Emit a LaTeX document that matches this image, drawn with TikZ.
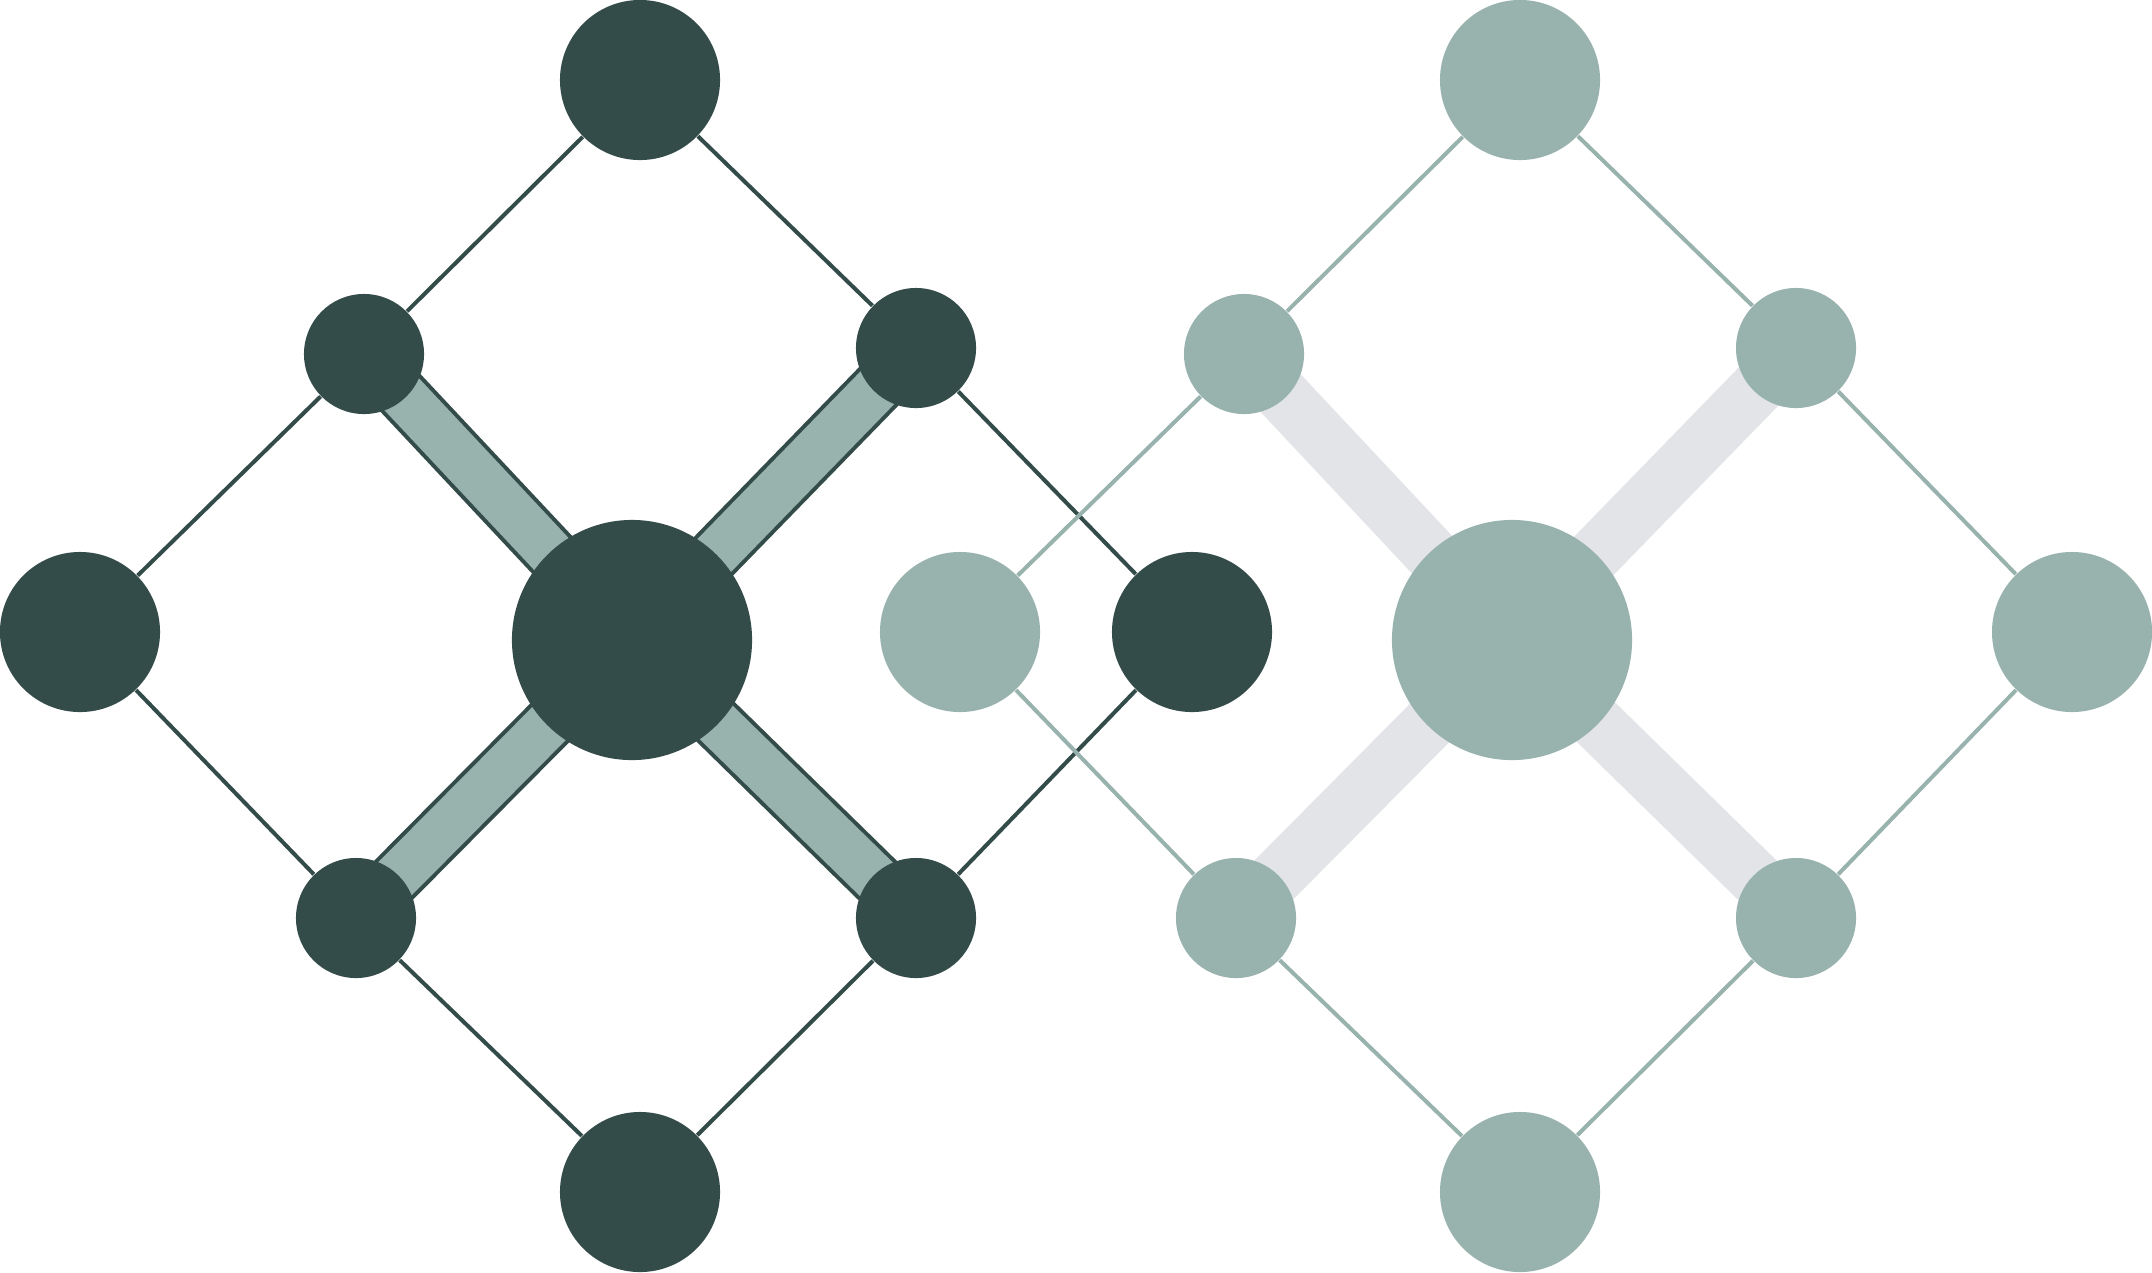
\documentclass[tikz,border=0pt]{standalone}
\usetikzlibrary{backgrounds}
\definecolor{pine}{HTML}{344C49}
\definecolor{sage}{HTML}{98B2AD}
\definecolor{mist}{HTML}{E2E4E8}
\tikzset{
  atom/.style={circle, inner sep=0pt, draw=none},
  big/.style={atom, minimum size=1.6cm},
  hub/.style={atom, minimum size=2.4cm},
  small/.style={atom, minimum size=1.2cm},
  edge/.style={line width=0.04cm}
}
\begin{document}
\begin{tikzpicture}[x=0.01cm, y=-0.01cm]
      \useasboundingbox (0,0) rectangle (2152,1272);
      % left lattice
      \draw
        (640,80) node[big, fill=pine] (t1){}
        (80,632) node[big, fill=pine] (l1){}
        (640,1192) node[big, fill=pine] (b1){}
        (1192,632) node[big, fill=pine] (r1){}
        (632,640) node[hub, fill=pine] (c1){}
        (364,354) node[small, fill=pine] (tl1){}
        (916,348) node[small, fill=pine] (tr1){}
        (356,918) node[small, fill=pine] (bl1){}
        (916,918) node[small, fill=pine] (br1){};
      \begin{scope}[edge, pine]
        \draw (t1) to (tl1);
        \draw (tl1) to (l1);
        \draw (l1) to (bl1);
        \draw (bl1) to (b1);
        \draw (b1) to (br1);
        \draw (br1) to (r1);
        \draw (r1) to (tr1);
        \draw (tr1) to (t1);
      \end{scope}
      \begin{pgfonlayer}{background}
        \foreach \s in {tl1,tr1,bl1,br1} {
          \draw[pine, line width=0.55cm] (c1.center) to (\s.center);
          \draw[sage, line width=0.47cm] (c1.center) to (\s.center);
        }
      \end{pgfonlayer}
      % right lattice
      \draw
        (1520,80) node[big, fill=sage] (t2){}
        (960,632) node[big, fill=sage] (l2){}
        (1520,1192) node[big, fill=sage] (b2){}
        (2072,632) node[big, fill=sage] (r2){}
        (1512,640) node[hub, fill=sage] (c2){}
        (1244,354) node[small, fill=sage] (tl2){}
        (1796,348) node[small, fill=sage] (tr2){}
        (1236,918) node[small, fill=sage] (bl2){}
        (1796,918) node[small, fill=sage] (br2){};
      \begin{scope}[edge, sage]
        \draw (t2) to (tl2);
        \draw (tl2) to (l2);
        \draw (l2) to (bl2);
        \draw (bl2) to (b2);
        \draw (b2) to (br2);
        \draw (br2) to (r2);
        \draw (r2) to (tr2);
        \draw (tr2) to (t2);
      \end{scope}
      \begin{pgfonlayer}{background}
        \foreach \s in {tl2,tr2,bl2,br2}
          \draw[mist, line width=0.55cm] (c2.center) to (\s.center);
      \end{pgfonlayer}
    \end{tikzpicture}
\end{document}
